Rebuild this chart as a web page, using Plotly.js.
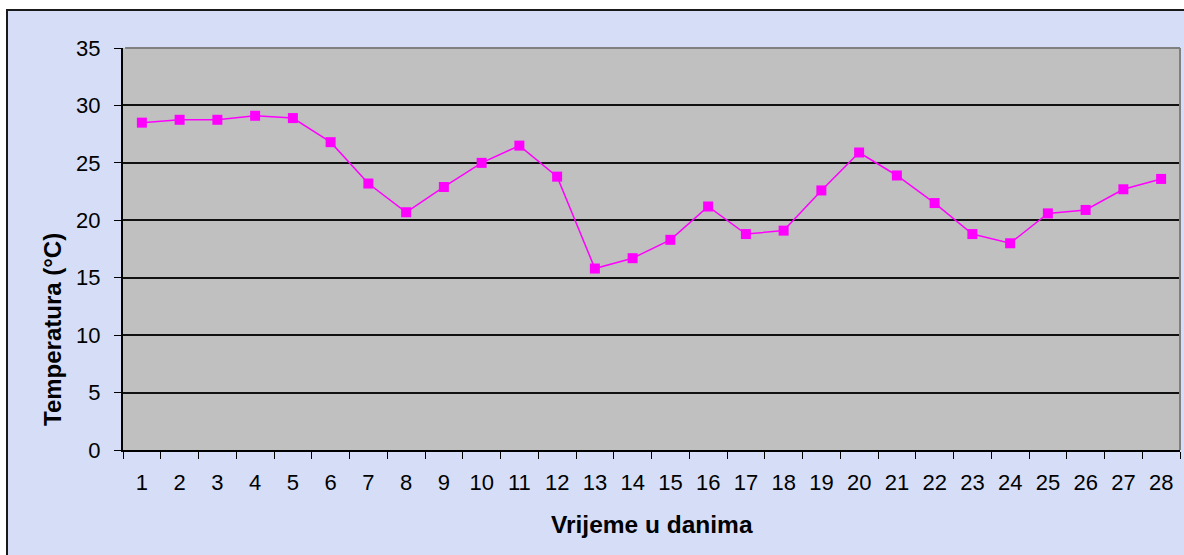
<!DOCTYPE html>
<html>
<head>
<meta charset="utf-8">
<script src="https://cdn.plot.ly/plotly-3.0.1.min.js"></script>
<style>
  html, body { margin: 0; padding: 0; background: #ffffff; }
  #chart { width: 1184px; height: 555px; }
</style>
</head>
<body>
<div id="chart"></div>
<script>
const days = ["1","2","3","4","5","6","7","8","9","10","11","12","13","14","15","16","17","18","19","20","21","22","23","24","25","26","27","28"];
const temperature = [28.5, 28.75, 28.75, 29.1, 28.9, 26.8, 23.2, 20.7, 22.9, 25.0, 26.5, 23.8, 15.8, 16.7, 18.3, 21.2, 18.8, 19.1, 22.6, 25.9, 23.9, 21.5, 18.8, 18.0, 20.6, 20.9, 22.7, 23.6];
const yTicks = [0, 5, 10, 15, 20, 25, 30, 35];
const xTitle = "Vrijeme u danima";
const yTitle = "Temperatura (°C)";

const FONT = "Liberation Sans, Arial, sans-serif";

const trace = {
  x: days,
  y: temperature,
  type: "scatter",
  mode: "lines+markers",
  line: { color: "#FF00FF", width: 1.5 },
  marker: { symbol: "square", size: 10, color: "#FF00FF" },
  hoverinfo: "x+y"
};

// plot area geometry (pixels) used only to place the outer frame and titles
const L = 123, R = 4, T = 48, B = 105, W = 1184, H = 555;
const pw = W - L - R, ph = H - T - B;

const layout = {
  width: W, height: H,
  margin: { l: L, r: R, t: T, b: B, pad: 0 },
  paper_bgcolor: "#ffffff",
  plot_bgcolor: "#C0C0C0",
  showlegend: false,
  font: { family: FONT, color: "#000000", size: 22 },
  xaxis: {
    type: "category",
    range: [-0.5, days.length - 0.5],
    tickson: "boundaries",
    ticks: "outside",
    ticklen: 7,
    tickwidth: 1,
    tickcolor: "#000000",
    showgrid: false,
    showline: true,
    linecolor: "#000000",
    linewidth: 2,
    zeroline: false,
    ticklabelstandoff: 12,
    tickfont: { size: 22, color: "#000000", family: FONT },
    fixedrange: true
  },
  yaxis: {
    range: [0, 35],
    tickvals: yTicks,
    ticktext: yTicks.map(String),
    ticks: "outside",
    ticklen: 7,
    tickwidth: 1,
    tickcolor: "#000000",
    showgrid: true,
    gridcolor: "#111111",
    gridwidth: 2,
    showline: true,
    linecolor: "#000000",
    linewidth: 2,
    zeroline: false,
    ticklabelstandoff: 9,
    tickfont: { size: 22, color: "#000000", family: FONT },
    fixedrange: true
  },
  annotations: [
    {
      text: xTitle, showarrow: false,
      xref: "paper", yref: "paper",
      x: 0.5, y: -(524 - T - ph) / ph,
      xanchor: "center", yanchor: "middle",
      font: { size: 24.5, color: "#000000", family: FONT, weight: "bold" }
    },
    {
      text: yTitle, showarrow: false, textangle: -90,
      xref: "paper", yref: "paper",
      x: (52 - L) / pw, y: (T + ph - 330) / ph,
      xanchor: "center", yanchor: "middle",
      font: { size: 24, color: "#000000", family: FONT, weight: "bold" }
    }
  ],
  shapes: [
    {
      type: "rect", xref: "paper", yref: "paper", layer: "below",
      x0: (7 - L) / pw, x1: (W + 10 - L) / pw,
      y0: -(B + 10) / ph, y1: 1 + (T - 10) / ph,
      fillcolor: "#D6DEF7",
      line: { color: "#1a1a1a", width: 2 }
    },
    {
      type: "rect", xref: "paper", yref: "paper", layer: "below",
      x0: 0, x1: 1, y0: 0, y1: 1,
      fillcolor: "#C0C0C0",
      line: { width: 0 }
    },
    {
      type: "line", xref: "paper", yref: "paper", layer: "above",
      x0: 0.002, x1: 1, y0: 1, y1: 1,
      line: { color: "#808080", width: 2 }
    },
    {
      type: "line", xref: "paper", yref: "paper", layer: "above",
      x0: 1, x1: 1, y0: 0, y1: 1,
      line: { color: "#808080", width: 2 }
    }
  ]
};

Plotly.newPlot("chart", [trace], layout, { displayModeBar: false, staticPlot: true });
</script>
</body>
</html>
